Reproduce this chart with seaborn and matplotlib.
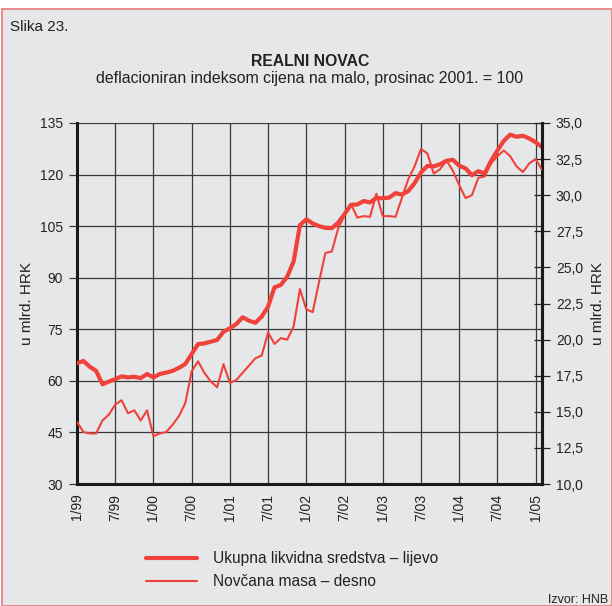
import numpy as np
import pandas as pd
import matplotlib
matplotlib.use("Agg")
import matplotlib.pyplot as plt
from matplotlib.lines import Line2D
from matplotlib.patches import Rectangle
import seaborn as sns

# monthly values, 1/99 .. 2/05
ukupna = [65.1, 65.8, 64.1, 62.9, 59.0, 59.8, 60.5, 61.3, 61.0, 61.2,
          60.8, 62.0, 61.0, 62.0, 62.4, 62.9, 63.8, 64.9, 67.8, 70.7,
          70.9, 71.4, 71.9, 74.3, 75.3, 76.5, 78.5, 77.5, 76.9, 78.7,
          81.6, 87.2, 87.9, 90.3, 94.7, 105.3, 107.0, 105.8, 105.0, 104.5,
          104.4, 106.0, 108.5, 111.2, 111.3, 112.3, 111.9, 113.2, 113.1, 113.3,
          114.6, 114.2, 115.2, 117.5, 120.6, 122.5, 122.4, 123.0, 124.0, 124.3,
          122.6, 121.8, 119.8, 121.0, 120.3, 124.0, 127.0, 129.8, 131.6, 131.0,
          131.3, 130.5, 129.4, 128.0]
novcana = [14.3, 13.6, 13.5, 13.5, 14.4, 14.8, 15.5, 15.8, 14.9, 15.1,
           14.4, 15.1, 13.3, 13.5, 13.6, 14.1, 14.7, 15.6, 17.8, 18.5,
           17.7, 17.1, 16.7, 18.3, 17.0, 17.2, 17.7, 18.2, 18.7, 18.9,
           20.5, 19.7, 20.1, 20.0, 20.9, 23.5, 22.1, 21.9, 24.0, 26.0,
           26.1, 27.7, 28.6, 29.4, 28.45, 28.55, 28.5, 30.1, 28.55, 28.55,
           28.5, 29.8, 31.1, 32.0, 33.2, 32.9, 31.5, 31.8, 32.4, 31.7,
           30.7, 29.8, 30.0, 31.2, 31.3, 32.2, 32.7, 33.1, 32.7, 32.0,
           31.6, 32.2, 32.5, 31.75]
tick_labels = ["1/99", "7/99", "1/00", "7/00", "1/01", "7/01", "1/02",
               "7/02", "1/03", "7/03", "1/04", "7/04", "1/05"]
left_ticks = [30, 45, 60, 75, 90, 105, 120, 135]
right_ticks = [10.0, 12.5, 15.0, 17.5, 20.0, 22.5, 25.0, 27.5, 30.0, 32.5, 35.0]

df = pd.DataFrame({"mjesec": np.arange(len(ukupna)),
                   "ukupna": ukupna, "novcana": novcana})

sns.set_style("white")
plt.rcParams['font.family'] = ['Liberation Sans', 'DejaVu Sans']

red = "#f0413a"
bg = "#e6e7e9"
grid_c = "#3a3a3a"
txt = "#222222"

fig = plt.figure(figsize=(6.12, 6.06), dpi=100)
fig.patch.set_facecolor("white")
# panel background with thin red frame
fig.add_artist(Rectangle((0.004, 0.0), 0.996, 0.985, transform=fig.transFigure,
                         facecolor=bg, edgecolor="#e9787a", lw=1.2, zorder=-10))

ax = fig.add_axes([77 / 612, 1 - 484 / 606, 465 / 612, 361 / 606])
ax.set_facecolor(bg)
ax2 = ax.twinx()

sns.lineplot(data=df, x="mjesec", y="ukupna", ax=ax, color=red, lw=3.0,
             legend=False, zorder=5)
sns.lineplot(data=df, x="mjesec", y="novcana", ax=ax2, color=red, lw=1.5,
             legend=False, zorder=5)

ax.set_xlim(0, len(ukupna) - 1)
ax.set_ylim(30, 135)
ax2.set_ylim(10, 35)

ax.set_xticks(np.arange(0, 73, 6))
ax.set_xticklabels(tick_labels, rotation=90, fontsize=10, color=txt)
ax.set_yticks(left_ticks)
ax.set_yticklabels([str(v) for v in left_ticks], fontsize=10, color=txt)
ax2.set_yticks(right_ticks)
ax2.set_yticklabels([f"{v:.1f}".replace(".", ",") for v in right_ticks],
                    fontsize=10, color=txt)

ax.grid(True, color=grid_c, lw=0.9)
ax.tick_params(axis="y", direction="out", length=6, width=0.9, color=grid_c, pad=4)
ax.tick_params(axis="x", direction="out", length=4, width=0.9, color=grid_c, pad=3)
ax2.tick_params(axis="y", direction="inout", length=12, width=0.9, color="#222222", pad=4)

for a in (ax, ax2):
    a.spines["top"].set_visible(False)
    for s in ("left", "bottom", "right"):
        a.spines[s].set_linewidth(2.2)
        a.spines[s].set_color("#1a1a1a")
    a.set_xlabel("")
ax.set_ylabel("u mlrd. HRK", fontsize=11, labelpad=4, color=txt)
ax2.set_ylabel("u mlrd. HRK", fontsize=11, labelpad=6, rotation=90, color=txt)
ax2.spines["left"].set_visible(False)
ax2.spines["bottom"].set_visible(False)

fig.text(10 / 612, 1 - 27 / 606, "Slika 23.", fontsize=11, ha="left", va="center", color=txt)
fig.text(310 / 612, 1 - 61 / 606, "REALNI NOVAC", fontsize=11.3, fontweight="bold",
         ha="center", va="center", color=txt)
fig.text(310 / 612, 1 - 78 / 606, "deflacioniran indeksom cijena na malo, prosinac 2001. = 100",
         fontsize=11.4, ha="center", va="center", color=txt)

# legend
fig.add_artist(Line2D([146 / 612, 197 / 612], [1 - 558 / 606] * 2, color=red, lw=3.0,
                      transform=fig.transFigure))
fig.add_artist(Line2D([146 / 612, 197 / 612], [1 - 581 / 606] * 2, color=red, lw=1.5,
                      transform=fig.transFigure))
fig.text(213 / 612, 1 - 558 / 606, "Ukupna likvidna sredstva – lijevo", fontsize=11.2,
         ha="left", va="center", color=txt)
fig.text(213 / 612, 1 - 581 / 606, "Novčana masa – desno", fontsize=11.2,
         ha="left", va="center", color=txt)
fig.text(608 / 612, 1 - 600 / 606, "Izvor: HNB", fontsize=9, ha="right", va="center",
         color=txt)

fig.savefig("out.png", dpi=100, facecolor=fig.get_facecolor())
